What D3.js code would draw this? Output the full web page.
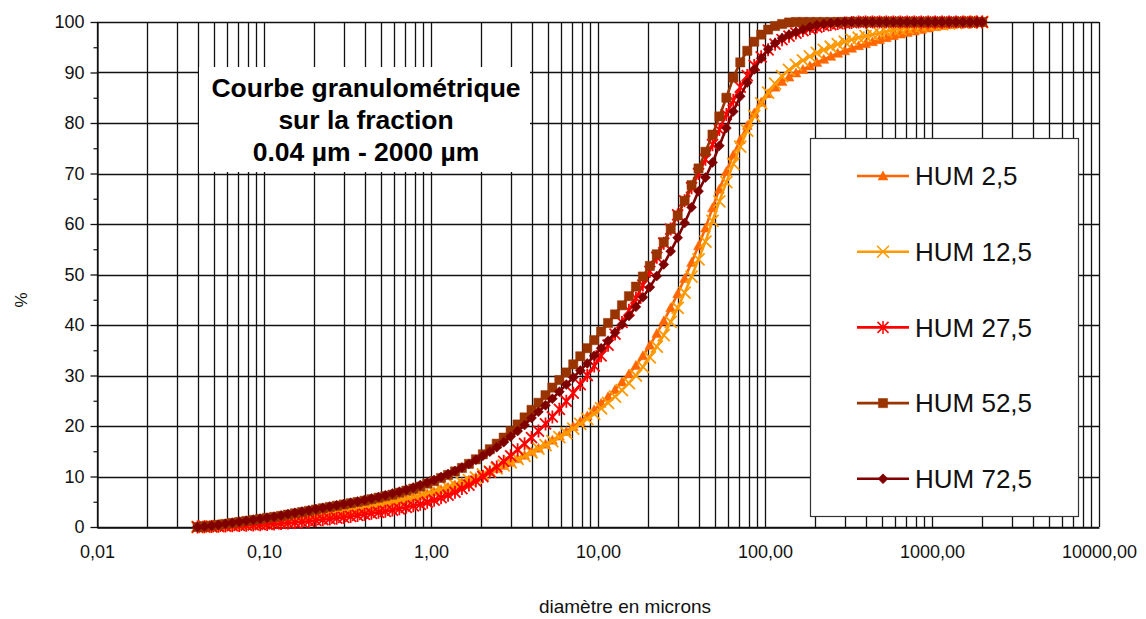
<!DOCTYPE html>
<html><head><meta charset="utf-8">
<script src="https://cdn.jsdelivr.net/npm/d3@7"></script>
<style>body{margin:0;background:#fff}svg{display:block;font-family:"Liberation Sans",Arial,sans-serif}</style>
</head><body><svg id="c" width="1146" height="619"></svg>
<script>
const diameters=[0.04,0.044,0.0485,0.0533,0.0587,0.0646,0.0711,0.0783,0.0862,0.0949,0.1044,0.1149,0.1265,0.1392,0.1532,0.1687,0.1857,0.2044,0.2249,0.2476,0.2725,0.3,0.3302,0.3634,
0.4,0.44,0.485,0.533,0.587,0.646,0.711,0.783,0.862,0.949,1.044,1.149,1.265,1.392,1.532,1.687,1.857,2.044,2.249,2.476,2.725,3.0,3.302,3.634,
4,4.4,4.85,5.33,5.87,6.46,7.11,7.83,8.62,9.49,10.44,11.49,12.65,13.92,15.32,16.87,18.57,20.44,22.49,24.76,27.25,30,33.02,36.34,
40,44,48.5,53.3,58.7,64.6,71.1,78.3,86.2,94.9,104.4,114.9,126.5,139.2,153.2,168.7,185.7,204.4,224.9,247.6,272.5,300,330.2,363.4,
400,440,485,533,587,646,711,783,862,949,1044,1149,1265,1392,1532,1687,1857,2000];

const seriesNames=["HUM 2,5","HUM 12,5","HUM 27,5","HUM 52,5","HUM 72,5"];

const hum2_5=[0,0.05,0.1,0.2,0.3,0.4,0.5,0.6,0.75,0.9,1.05,1.2,1.35,1.5,1.7,1.9,2.1,2.3,2.5,2.7,2.9,3.1,3.3,3.5,
3.75,4.0,4.3,4.6,4.9,5.2,5.5,5.85,6.2,6.6,7.0,7.4,7.85,8.3,8.8,9.3,9.8,10.4,11.0,11.6,12.2,12.8,13.5,14.2,
14.9,15.6,16.4,17.2,18.0,18.9,19.9,20.9,22.0,23.2,24.5,25.8,27.2,28.7,30.3,32.0,33.9,36.0,38.3,40.8,43.4,46.2,49.2,52.4,
55.7,59.2,63.2,66.9,70.4,73.7,76.7,79.5,82.0,84.1,85.8,87.1,88.2,89.1,89.9,90.6,91.3,92.0,92.6,93.2,93.8,94.3,94.8,95.3,
95.7,96.1,96.5,96.9,97.3,97.6,97.9,98.2,98.5,98.8,99.1,99.3,99.5,99.7,99.8,99.9,100,100];

const hum12_5=[0,0.05,0.1,0.2,0.3,0.4,0.5,0.6,0.75,0.9,1.05,1.2,1.35,1.5,1.7,1.9,2.1,2.3,2.5,2.7,2.9,3.1,3.3,3.5,
3.75,4.0,4.3,4.6,4.9,5.2,5.5,5.85,6.2,6.6,7.0,7.4,7.85,8.3,8.8,9.3,9.8,10.4,11.0,11.6,12.2,12.8,13.5,14.1,
14.8,15.5,16.2,17.0,17.8,18.6,19.5,20.4,21.4,22.4,23.5,24.6,25.8,27.1,28.5,30.0,31.7,33.6,35.7,38.0,40.6,43.4,46.4,49.6,
53.0,56.5,60.6,64.5,68.3,71.9,75.3,78.5,81.4,83.9,86.0,87.8,89.3,90.5,91.5,92.4,93.2,93.9,94.5,95.1,95.6,96.1,96.5,96.9,
97.2,97.5,97.8,98.1,98.4,98.6,98.8,99.0,99.2,99.4,99.5,99.6,99.7,99.8,99.9,100,100,100];

const hum27_5=[0,0.05,0.1,0.15,0.2,0.25,0.3,0.35,0.4,0.45,0.5,0.6,0.7,0.8,0.9,1.0,1.15,1.3,1.45,1.6,1.75,1.9,2.1,2.3,
2.5,2.7,2.9,3.1,3.35,3.6,3.9,4.2,4.5,4.9,5.3,5.8,6.3,6.9,7.6,8.3,9.1,10.0,10.9,11.9,13.0,14.1,15.3,16.5,
17.7,19.0,20.4,21.8,23.3,24.9,26.5,28.2,30.0,31.9,33.9,36.0,38.2,40.5,42.9,45.3,47.9,50.6,53.4,56.2,59.0,61.8,64.6,67.2,
70.0,72.8,75.7,78.7,81.7,84.5,87.1,89.4,91.4,93.1,94.5,95.6,96.5,97.2,97.8,98.3,98.7,99.0,99.3,99.5,99.7,99.8,99.9,100,
100,100,100,100,100,100,100,100,100,100,100,100,100,100,100,100,100,100];

const hum52_5=[0,0.1,0.25,0.4,0.6,0.8,1.0,1.2,1.4,1.6,1.8,2.0,2.2,2.45,2.7,2.95,3.2,3.45,3.7,3.95,4.2,4.45,4.7,4.95,
5.2,5.5,5.8,6.1,6.4,6.8,7.2,7.6,8.0,8.6,9.1,9.7,10.3,11.0,11.7,12.5,13.4,14.4,15.4,16.5,17.7,19.0,20.3,21.7,
23.2,24.6,26.1,27.6,29.1,30.6,32.2,33.8,35.4,37.0,38.7,40.4,42.1,43.9,45.7,47.6,49.6,51.7,54.0,56.4,59.0,61.7,64.6,67.7,
71.0,74.3,77.7,81.3,85.0,89.0,92.0,94.3,96.1,97.5,98.5,99.2,99.6,99.9,100,100,100,100,100,100,100,100,100,100,
100,100,100,100,100,100,100,100,100,100,100,100,100,100,100,100,100,100];

const hum72_5=[0,0.1,0.25,0.45,0.65,0.85,1.05,1.25,1.45,1.65,1.85,2.05,2.3,2.55,2.8,3.05,3.3,3.55,3.8,4.05,4.3,4.55,4.8,5.05,
5.35,5.65,5.95,6.3,6.65,7.0,7.4,7.8,8.3,8.8,9.3,9.9,10.5,11.1,11.8,12.5,13.3,14.1,14.9,15.8,16.8,17.9,19.0,20.2,
21.6,22.8,24.1,25.4,26.8,28.2,29.6,31.0,32.4,33.9,35.4,36.9,38.5,40.1,41.8,43.6,45.5,47.5,49.7,52.0,54.6,57.3,60.2,63.3,
66.5,69.2,72.2,75.5,79.0,82.3,85.3,88.0,90.6,92.8,94.6,95.8,96.8,97.5,98.0,98.5,99.0,99.4,99.6,99.8,99.9,100,100,100,
100,100,100,100,100,100,100,100,100,100,100,100,100,100,100,100,100,100];

const seriesValues=[hum2_5,hum12_5,hum27_5,hum52_5,hum72_5];
const seriesColors=["#FF6600","#FF9900","#FF0000","#993300","#800000"];
const seriesMarkers=["triangle","x","asterisk","square","diamond"];

const xTickValues=[0.01,0.1,1,10,100,1000,10000];
const xTickLabels=["0,01","0,10","1,00","10,00","100,00","1000,00","10000,00"];
const yTickValues=[0,10,20,30,40,50,60,70,80,90,100];
const yMinorTickValues=[5,15,25,35,45,55,65,75,85,95];
const yTickLabels=["0","10","20","30","40","50","60","70","80","90","100"];
const titleLines=["Courbe granulométrique","sur la fraction","0.04 µm - 2000 µm"];
const xTitle="diamètre en microns";
const yTitle="%";

const svg=d3.select("#c");
const L=97,R=1099,T=22,B=527;
const x=d3.scaleLog().domain([0.01,10000]).range([L,R]);
const y=d3.scaleLinear().domain([0,100]).range([B,T]);
const px=v=>Math.round(v)+0.5;
const gridColor="#111";

// grid
const g=svg.append("g");
g.selectAll("line.vx").data(x.ticks()).join("line")
 .attr("x1",d=>px(x(d))).attr("x2",d=>px(x(d))).attr("y1",T).attr("y2",B)
 .attr("stroke",gridColor).attr("stroke-width",1.3);
g.selectAll("line.hy").data(yTickValues).join("line")
 .attr("x1",L).attr("x2",R).attr("y1",d=>px(y(d))).attr("y2",d=>px(y(d)))
 .attr("stroke",gridColor).attr("stroke-width",1.3);

// axes
const fs=18;
const ax=svg.append("g").attr("transform",`translate(0,${px(B)})`)
 .call(d3.axisBottom(x).tickValues(xTickValues).tickFormat((d,i)=>xTickLabels[i]).tickSize(0).tickPadding(18).tickSizeOuter(0));
ax.select(".domain").attr("stroke",gridColor).attr("stroke-width",1.3);
ax.selectAll("text").attr("font-size",fs).attr("fill","#111").attr("font-family","Liberation Sans, Arial, sans-serif");
const ay=svg.append("g").attr("transform",`translate(${px(L)},0)`)
 .call(d3.axisLeft(y).tickValues(yTickValues).tickFormat((d,i)=>yTickLabels[i]).tickSize(7).tickPadding(6).tickSizeOuter(0));
ay.select(".domain").attr("stroke",gridColor).attr("stroke-width",1.3);
ay.selectAll("line").attr("stroke",gridColor).attr("stroke-width",1.3);
ay.selectAll("text").attr("font-size",fs).attr("fill","#111").attr("font-family","Liberation Sans, Arial, sans-serif");
const aym=svg.append("g").attr("transform",`translate(${px(L)},0)`)
 .call(d3.axisLeft(y).tickValues(yMinorTickValues).tickFormat("").tickSize(4).tickSizeOuter(0));
aym.select(".domain").remove();
aym.selectAll("line").attr("stroke",gridColor).attr("stroke-width",1.2);

// title box
svg.append("rect").attr("x",199).attr("y",67).attr("width",331).attr("height",105).attr("fill","#fff");
svg.append("g").selectAll("text").data(titleLines).join("text")
 .attr("x",366).attr("y",(d,i)=>97+i*32).attr("text-anchor","middle")
 .attr("font-weight","bold").attr("font-size",26.5).attr("fill","#000").text(d=>d);

// series
const line=d3.line().x(d=>x(d[0])).y(d=>y(d[1]));
function markerPath(type){
  switch(type){
    case "triangle": return "M0,-5L5,4L-5,4Z";
    case "x": return "M-6,-6L6,6M-6,6L6,-6";
    case "asterisk": return "M-5.5,-5.5L5.5,5.5M-5.5,5.5L5.5,-5.5M0,-6.5L0,6.5";
    case "square": return "M-4.6,-4.6H4.6V4.6H-4.6Z";
    case "diamond": return "M0,-5L5,0L0,5L-5,0Z";
  }
}
const filled={triangle:true,square:true,diamond:true,x:false,asterisk:false};
seriesValues.forEach((vals,si)=>{
  const pts=diameters.map((d,i)=>[d,vals[i]]);
  const c=seriesColors[si], m=seriesMarkers[si];
  const sg=svg.append("g");
  sg.append("path").attr("d",line(pts)).attr("fill","none").attr("stroke",c).attr("stroke-width",2.6);
  sg.selectAll("path.m").data(pts).join("path").attr("class","m")
    .attr("transform",d=>`translate(${x(d[0])},${y(d[1])})`)
    .attr("d",markerPath(m))
    .attr("fill",filled[m]?c:"none").attr("stroke",c).attr("stroke-width",filled[m]?0.5:1.8);
});

// legend
const lg=svg.append("g");
lg.append("rect").attr("x",810.5).attr("y",138.5).attr("width",268).attr("height",378).attr("fill","#fff").attr("stroke","#333").attr("stroke-width",1.2);
seriesNames.forEach((n,i)=>{
  const cy=176+i*75.7, c=seriesColors[i], m=seriesMarkers[i];
  lg.append("line").attr("x1",857).attr("x2",909).attr("y1",cy).attr("y2",cy).attr("stroke",c).attr("stroke-width",2.6);
  lg.append("path").attr("transform",`translate(883,${cy})`).attr("d",markerPath(m))
    .attr("fill",filled[m]?c:"none").attr("stroke",c).attr("stroke-width",filled[m]?0.5:1.5);
  lg.append("text").attr("x",915).attr("y",cy).attr("dy","0.35em").attr("font-size",26).attr("fill","#111").text(n);
});

// axis titles
svg.append("text").attr("x",625).attr("y",613).attr("text-anchor","middle").attr("font-size",19).attr("fill","#111").text(xTitle);
svg.append("text").attr("transform","translate(27,300) rotate(-90)").attr("text-anchor","middle").attr("font-size",17).attr("fill","#111").text(yTitle);
</script></body></html>
